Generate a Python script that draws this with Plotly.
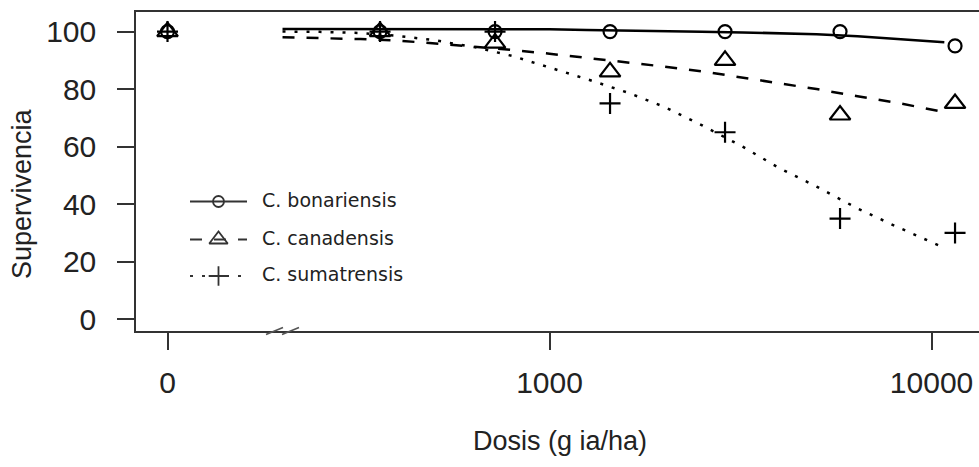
import math
import plotly.graph_objects as go

# ---- data -------------------------------------------------------------
# Doses in g ia/ha; the untreated control (0) is placed at 100 on the log axis
DOSES = [0, 360, 720, 1440, 2880, 5760, 11520]
ZERO_AT = 100

SPECIES = ["C. bonariensis", "C. canadensis", "C. sumatrensis"]
SURV_BONARIENSIS = [100, 100, 100, 100, 100, 100, 95]
SURV_CANADENSIS = [100, 100, 96, 86, 90, 71, 75]
SURV_SUMATRENSIS = [100, 100, 100, 75, 65, 35, 30]

# fitted dose-response curves
CURVE_DOSES = [200, 250, 320, 400, 500, 640, 800, 1000, 1250, 1600, 2000,
               2500, 3200, 4000, 5000, 6400, 8000, 10800]
FIT_BONARIENSIS = [100.9, 100.9, 100.9, 100.9, 100.9, 100.9, 100.9, 100.8, 100.5,
                   100.2, 100.0, 99.9, 99.7, 99.4, 99.1, 98.4, 97.6, 96.3]
FIT_CANADENSIS = [98.0, 97.8, 97.4, 96.9, 95.9, 94.6, 93.6, 92.3, 90.9, 89.2,
                  87.8, 86.2, 84.0, 82.2, 80.0, 77.5, 75.4, 72.0]
FIT_SUMATRENSIS = [100.0, 99.9, 99.5, 98.5, 97.0, 94.5, 91.5, 87.6, 83.5, 78.8,
                   73.8, 67.5, 60.0, 52.5, 46.1, 38.5, 32.5, 24.8]

X_TICKS = [0, 1000, 10000]
Y_TICKS = [0, 20, 40, 60, 80, 100]

# ---- styling ----------------------------------------------------------
W, H = 979, 467
L, R, T, B = 136, 0, 12, 136
INK = "#222222"
AXIS = "#333333"
TICK_FONT = dict(family="Liberation Sans, Arial, sans-serif", size=30, color=INK)
TITLE_FONT = dict(family="Liberation Sans, Arial, sans-serif", size=27, color=INK)
LEGEND_FONT = dict(family="DejaVu Sans, sans-serif", size=19, color=INK)

DASHES = ["solid", "12px,12px", "3px,9px"]
SYMBOLS = ["circle-open", "triangle-up-open", "cross-thin-open"]
SIZES = [13, 18, 15]
LEG_SIZES = [11, 16, 14]

surv = [SURV_BONARIENSIS, SURV_CANADENSIS, SURV_SUMATRENSIS]
fits = [FIT_BONARIENSIS, FIT_CANADENSIS, FIT_SUMATRENSIS]

x_plot = [d if d > 0 else ZERO_AT for d in DOSES]

fig = go.Figure()

for name, ys, fy, dash, sym, sz in zip(SPECIES, surv, fits, DASHES, SYMBOLS, SIZES):
    fig.add_trace(go.Scatter(
        x=CURVE_DOSES, y=fy, mode="lines", name=name, showlegend=False,
        line=dict(color="black", width=2.5, dash=dash), hoverinfo="skip"))
    fig.add_trace(go.Scatter(
        x=x_plot, y=ys, mode="markers", name=name, showlegend=False,
        marker=dict(symbol=sym, size=sz, color="black",
                    line=dict(color="black", width=2.2))))

# helpers: pixel position -> paper coordinates of the plotting area
pw, ph = W - L - R, H - T - B
def px(xp):
    return (xp - L) / pw
def py(yp):
    return (H - B - yp) / ph

# legend drawn on a hidden pixel-scaled overlay axis
leg_rows = [201.5, 239.5, 276]
for name, dash, sym, sz, ly in zip(SPECIES, DASHES, SYMBOLS, LEG_SIZES, leg_rows):
    fig.add_trace(go.Scatter(
        x=[190, 247], y=[ly, ly], mode="lines", xaxis="x2", yaxis="y2",
        showlegend=False, hoverinfo="skip",
        line=dict(color="#333333", width=2, dash=dash)))
    fig.add_trace(go.Scatter(
        x=[218.5], y=[ly], mode="markers", xaxis="x2", yaxis="y2",
        showlegend=False, hoverinfo="skip",
        marker=dict(symbol=sym, size=sz, color="#333333",
                    line=dict(color="#333333", width=1.8))))
    fig.add_annotation(x=px(260), y=py(ly - 2), xref="paper", yref="paper",
                       text=name, showarrow=False, xanchor="left", yanchor="middle",
                       font=LEGEND_FONT)

# axis titles
fig.add_annotation(x=px(560), y=py(441), xref="paper", yref="paper",
                   text="Dosis (g ia/ha)", showarrow=False,
                   xanchor="center", yanchor="middle", font=TITLE_FONT)
fig.add_annotation(x=px(22), y=py(193), xref="paper", yref="paper",
                   text="Supervivencia", textangle=-90, showarrow=False,
                   xanchor="center", yanchor="middle", font=TITLE_FONT)

# axis break marks between the control and the first dose
for x0 in (266, 282):
    fig.add_shape(type="line", xref="paper", yref="paper",
                  x0=px(x0), y0=py(334.5), x1=px(x0 + 17), y1=py(327.5),
                  line=dict(color="#555555", width=1.6))

fig.update_layout(
    width=W, height=H,
    margin=dict(l=L, r=R, t=T, b=B, pad=0),
    paper_bgcolor="white", plot_bgcolor="white",
    template="none",
    xaxis=dict(
        type="log",
        range=[math.log10(82.7), math.log10(13310)],
        tickvals=[t if t > 0 else ZERO_AT for t in X_TICKS],
        ticktext=[str(t) for t in X_TICKS],
        ticks="outside", ticklen=17, tickwidth=1.5, tickcolor=AXIS,
        showline=True, linecolor=AXIS, linewidth=1.5, mirror=True,
        showgrid=False, zeroline=False, tickfont=TICK_FONT,
        ticklabelstandoff=7,
    ),
    yaxis=dict(
        range=[-4.1, 106.8],
        tickvals=Y_TICKS,
        ticks="outside", ticklen=17, tickwidth=1.5, tickcolor=AXIS,
        showline=True, linecolor=AXIS, linewidth=1.5, mirror=False,
        showgrid=False, zeroline=False, tickfont=TICK_FONT,
        ticklabelstandoff=15,
    ),
    xaxis2=dict(overlaying="x", anchor="y2", range=[L, W - R], visible=False),
    yaxis2=dict(overlaying="y", anchor="x2", range=[H - B, T], visible=False),
    showlegend=False,
)

fig.write_html("out.html")
